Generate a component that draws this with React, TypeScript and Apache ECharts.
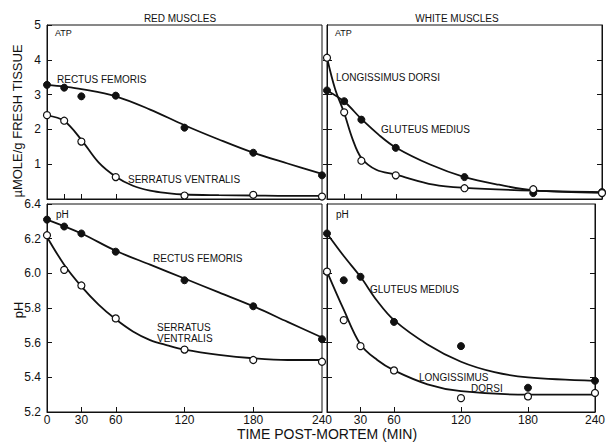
import React, { useEffect, useRef } from "react";
import * as echarts from "echarts";

// Sample times (min post-mortem)
const TIMES = [0, 15, 30, 60, 120, 180, 240];

// ATP (µmole/g fresh tissue) – measured points
const ATP_RED_RECTUS = [3.28, 3.2, 2.95, 2.97, 2.05, 1.33, 0.68];
const ATP_RED_SERRATUS = [2.41, 2.25, 1.65, 0.63, 0.1, 0.12, 0.07];
const ATP_WHITE_GLUTEUS = [3.12, 2.81, 2.28, 1.47, 0.63, 0.17, 0.2];
const ATP_WHITE_LONGISSIMUS = [4.06, 2.49, 1.1, 0.68, 0.31, 0.28, 0.17];

// pH – measured points
const PH_RED_RECTUS = [6.31, 6.27, 6.23, 6.125, 5.96, 5.81, 5.62];
const PH_RED_SERRATUS = [6.22, 6.02, 5.93, 5.74, 5.56, 5.5, 5.49];
const PH_WHITE_GLUTEUS = [6.23, 5.96, 5.98, 5.72, 5.58, 5.34, 5.38];
const PH_WHITE_LONGISSIMUS = [6.01, 5.73, 5.58, 5.44, 5.28, 5.29, 5.31];

// Fitted curves
const C_ATP_RECTUS_T = [0, 15, 30, 60, 90, 120, 150, 180, 210, 240];
const C_ATP_RECTUS_V = [3.28, 3.23, 3.16, 2.95, 2.57, 2.12, 1.71, 1.33, 1.02, 0.72];
const C_ATP_SERRATUS_T = [0, 15, 30, 45, 60, 75, 90, 105, 120, 150, 180, 210, 240];
const C_ATP_SERRATUS_V = [2.4, 2.24, 1.7, 1.05, 0.64, 0.38, 0.24, 0.17, 0.13, 0.11, 0.1, 0.09, 0.09];
const C_ATP_GLUTEUS_T = [0, 15, 30, 45, 60, 90, 120, 150, 180, 240];
const C_ATP_GLUTEUS_V = [3.12, 2.8, 2.3, 1.85, 1.48, 0.99, 0.63, 0.41, 0.25, 0.18];
const C_ATP_LONGISSIMUS_T = [0, 7, 15, 22, 30, 43, 60, 93, 120, 180, 240];
const C_ATP_LONGISSIMUS_V = [4.06, 3.17, 2.47, 1.75, 1.18, 0.84, 0.7, 0.41, 0.32, 0.24, 0.2];

const C_PH_RECTUS_T = [0, 30, 60, 90, 120, 150, 180, 210, 240];
const C_PH_RECTUS_V = [6.31, 6.23, 6.13, 6.05, 5.97, 5.89, 5.81, 5.72, 5.63];
const C_PH_SERRATUS_T = [0, 15, 30, 45, 60, 75, 90, 105, 120, 150, 180, 210, 240];
const C_PH_SERRATUS_V = [6.21, 6.05, 5.925, 5.82, 5.735, 5.665, 5.615, 5.585, 5.56, 5.53, 5.51, 5.5, 5.5];
const C_PH_GLUTEUS_T = [0, 15, 30, 45, 60, 90, 120, 150, 180, 240];
const C_PH_GLUTEUS_V = [6.23, 6.1, 5.98, 5.84, 5.73, 5.59, 5.49, 5.43, 5.4, 5.38];
const C_PH_LONGISSIMUS_T = [0, 15, 30, 45, 60, 90, 120, 180, 240];
const C_PH_LONGISSIMUS_V = [6.01, 5.79, 5.59, 5.5, 5.44, 5.36, 5.32, 5.3, 5.3];

// Axis ticks / labels
const ATP_LABELS = [1, 2, 3, 4, 5];
const PH_LABELS = [5.2, 5.4, 5.6, 5.8, 6.0, 6.2, 6.4];
const LEFT_TIME_LABELS = [0, 30, 60, 120, 180, 240];
const RIGHT_TIME_LABELS = [30, 60, 120, 180, 240];
const TOP_TIME_TICKS = [15, 30, 60];
const BOTTOM_TIME_TICKS = [30, 60, 120, 180];

const FONT = "'Liberation Sans', 'DejaVu Sans', sans-serif";
const INK = "#111";

const zip = (t: number[], v: number[]) => t.map((x, i) => [x, v[i]]);

export default function App() {
  const ref = useRef<HTMLDivElement>(null);

  useEffect(() => {
    if (!ref.current) return;
    const chart = echarts.init(ref.current, null, { renderer: "svg" });

    const grids = [
      { left: 47, top: 25, width: 275, height: 174 },
      { left: 327, top: 25, width: 275, height: 174 },
      { left: 47, top: 204, width: 275, height: 208 },
      { left: 327, top: 204, width: 275, height: 208 },
    ].map((g) => ({ ...g, show: true, borderColor: INK, borderWidth: 1, backgroundColor: "transparent" }));

    const xAxisBase = {
      type: "value",
      min: 0,
      max: 240,
      interval: 30,
      splitLine: { show: false },
      axisLine: { lineStyle: { color: INK, width: 1 } },
    };
    const xLbl = { margin: 2, fontSize: 12, color: INK, fontFamily: FONT };
    const xTick = { inside: true, length: 5, lineStyle: { color: INK } };
    const xAxis = [
      { ...xAxisBase, gridIndex: 0, axisLabel: { show: false }, axisTick: { ...xTick, customValues: TOP_TIME_TICKS } },
      { ...xAxisBase, gridIndex: 1, axisLabel: { show: false }, axisTick: { ...xTick, customValues: TOP_TIME_TICKS } },
      { ...xAxisBase, gridIndex: 2, axisLabel: { ...xLbl, customValues: LEFT_TIME_LABELS }, axisTick: { ...xTick, customValues: BOTTOM_TIME_TICKS } },
      { ...xAxisBase, gridIndex: 3, axisLabel: { ...xLbl, customValues: RIGHT_TIME_LABELS }, axisTick: { ...xTick, customValues: BOTTOM_TIME_TICKS } },
    ];

    const atpY = { type: "value", min: 0, max: 5, interval: 1, splitLine: { show: false }, axisLine: { show: true, lineStyle: { color: INK } } };
    const phY = { type: "value", min: 5.2, max: 6.4, interval: 0.2, splitLine: { show: false }, axisLine: { show: true, lineStyle: { color: INK } } };
    const lbl = { fontSize: 12, color: INK, fontFamily: FONT, margin: 6 };
    const tickIn = { inside: true, length: 5, lineStyle: { color: INK } };
    const tickOut = { inside: false, length: 4, lineStyle: { color: INK } };
    const PH_INNER = [5.4, 5.6, 5.8, 6.0, 6.2];
    const yAxis = [
      { ...atpY, gridIndex: 0, axisLabel: { ...lbl, customValues: ATP_LABELS }, axisTick: { ...tickIn, customValues: [1, 2, 3, 4, 5] } },
      { ...atpY, gridIndex: 1, axisLabel: { show: false }, axisTick: { ...tickIn, customValues: [1, 2, 3, 4] } },
      { ...atpY, gridIndex: 1, position: "left", axisLabel: { show: false }, axisTick: { ...tickOut, customValues: [1, 2, 3, 4] } },
      { ...atpY, gridIndex: 1, position: "right", axisLabel: { show: false }, axisTick: { ...tickIn, customValues: [1, 2, 3, 4] } },
      { ...phY, gridIndex: 2, axisLabel: { ...lbl, customValues: PH_LABELS, formatter: (v: number) => v.toFixed(1) }, axisTick: { ...tickIn, customValues: PH_LABELS } },
      { ...phY, gridIndex: 3, axisLabel: { show: false }, axisTick: { ...tickIn, customValues: PH_INNER } },
      { ...phY, gridIndex: 3, position: "left", axisLabel: { show: false }, axisTick: { ...tickOut, customValues: PH_INNER } },
      { ...phY, gridIndex: 3, position: "right", axisLabel: { show: false }, axisTick: { ...tickIn, customValues: PH_INNER } },
    ];

    const curve = (name: string, xi: number, yi: number, t: number[], v: number[]) => ({
      name,
      type: "line",
      xAxisIndex: xi,
      yAxisIndex: yi,
      data: zip(t, v),
      smooth: 0.35,
      showSymbol: false,
      symbol: "none",
      lineStyle: { color: INK, width: 1.8, opacity: 1 },
      z: 2,
    });
    const pts = (name: string, xi: number, yi: number, v: number[], filled: boolean) => ({
      name,
      type: "scatter",
      xAxisIndex: xi,
      yAxisIndex: yi,
      data: zip(TIMES, v),
      symbol: "circle",
      symbolSize: 7,
      itemStyle: filled
        ? { color: INK, borderColor: INK, borderWidth: 1, opacity: 1 }
        : { color: "#fff", borderColor: INK, borderWidth: 1.2, opacity: 1 },
      z: 5,
    });

    const series = [
      curve("Rectus femoris ATP curve", 0, 0, C_ATP_RECTUS_T, C_ATP_RECTUS_V),
      curve("Serratus ventralis ATP curve", 0, 0, C_ATP_SERRATUS_T, C_ATP_SERRATUS_V),
      pts("Rectus femoris ATP", 0, 0, ATP_RED_RECTUS, true),
      pts("Serratus ventralis ATP", 0, 0, ATP_RED_SERRATUS, false),

      curve("Gluteus medius ATP curve", 1, 1, C_ATP_GLUTEUS_T, C_ATP_GLUTEUS_V),
      curve("Longissimus dorsi ATP curve", 1, 1, C_ATP_LONGISSIMUS_T, C_ATP_LONGISSIMUS_V),
      pts("Gluteus medius ATP", 1, 1, ATP_WHITE_GLUTEUS, true),
      pts("Longissimus dorsi ATP", 1, 1, ATP_WHITE_LONGISSIMUS, false),

      curve("Rectus femoris pH curve", 2, 4, C_PH_RECTUS_T, C_PH_RECTUS_V),
      curve("Serratus ventralis pH curve", 2, 4, C_PH_SERRATUS_T, C_PH_SERRATUS_V),
      pts("Rectus femoris pH", 2, 4, PH_RED_RECTUS, true),
      pts("Serratus ventralis pH", 2, 4, PH_RED_SERRATUS, false),

      curve("Gluteus medius pH curve", 3, 5, C_PH_GLUTEUS_T, C_PH_GLUTEUS_V),
      curve("Longissimus dorsi pH curve", 3, 5, C_PH_LONGISSIMUS_T, C_PH_LONGISSIMUS_V),
      pts("Gluteus medius pH", 3, 5, PH_WHITE_GLUTEUS, true),
      pts("Longissimus dorsi pH", 3, 5, PH_WHITE_LONGISSIMUS, false),
    ];

    const txt = (text: string, x: number, y: number, size = 10, align = "left", extra: any = {}) => ({
      type: "text",
      x,
      y,
      z: 10,
      ...extra,
      style: { text, fill: INK, font: `${size}px ${FONT}`, textAlign: align, textVerticalAlign: "middle" },
    });

    const graphic = [
      txt("RED MUSCLES", 180, 18, 10, "center"),
      txt("WHITE MUSCLES", 457, 18, 10, "center"),
      txt("ATP", 55, 33, 9),
      txt("ATP", 335, 33, 9),
      txt("pH", 56, 214, 10),
      txt("pH", 336, 214, 10),
      txt("RECTUS FEMORIS", 57, 79),
      txt("SERRATUS VENTRALIS", 128, 179),
      txt("LONGISSIMUS DORSI", 336, 77),
      txt("GLUTEUS MEDIUS", 381, 129),
      txt("RECTUS FEMORIS", 153, 258),
      txt("SERRATUS", 157, 327),
      txt("VENTRALIS", 157, 338),
      txt("GLUTEUS MEDIUS", 370, 289),
      txt("LONGISSIMUS", 419, 377),
      txt("DORSI", 471, 388),
      txt("TIME POST-MORTEM (MIN)", 327, 434, 14, "center"),
      txt("µMOLE/g FRESH TISSUE", 17, 121, 13, "center", { rotation: Math.PI / 2 }),
      txt("pH", 18, 310, 13, "center", { rotation: Math.PI / 2 }),
    ];

    chart.setOption({
      animation: false,
      backgroundColor: "#fff",
      textStyle: { fontFamily: FONT },
      grid: grids,
      xAxis,
      yAxis,
      series,
      graphic,
    });

    return () => chart.dispose();
  }, []);

  return <div ref={ref} style={{ position: "fixed", left: 0, top: 0, width: 608, height: 442, background: "#fff" }} />;
}
